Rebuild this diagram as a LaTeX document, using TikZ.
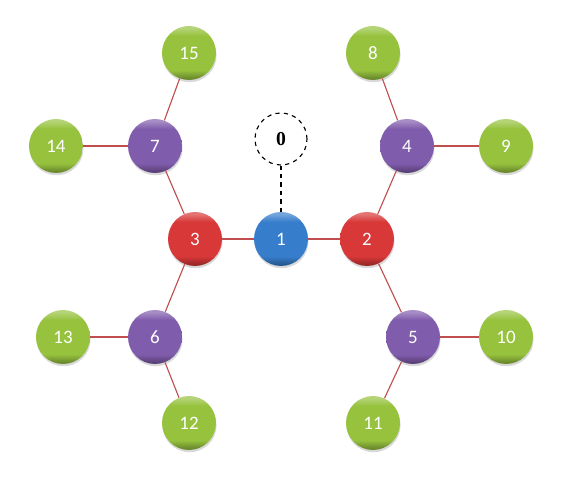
\documentclass[tikz,border=0pt]{standalone}
\usepackage{tikz}
\usepackage{xcolor}
\usepackage{fontspec}
\setmainfont{Liberation Serif}
\newfontfamily\numfont{Carlito}
\usetikzlibrary{shadows}
\definecolor{leaf}{RGB}{150,194,62}
\definecolor{mid}{RGB}{128,92,172}
\definecolor{hub}{RGB}{216,56,56}
\definecolor{root}{RGB}{54,126,204}
\definecolor{link}{RGB}{192,78,78}
% flat fill with a light top rim and a dark bottom rim
\newcommand{\bevel}[1]{%
  \pgfdeclareverticalshading{#1bev}{100bp}{%
    color(0bp)=(#1!72!black); color(27bp)=(#1!72!black);
    color(34bp)=(#1); color(66bp)=(#1);
    color(73bp)=(#1!70!white); color(100bp)=(#1!70!white)}}
\bevel{leaf}\bevel{mid}\bevel{hub}\bevel{root}

\begin{document}
\begin{tikzpicture}[
    ball/.style={circle,minimum size=1.35cm,inner sep=0pt,
                 font=\numfont\fontsize{13.5}{16}\selectfont,text=white,
                 drop shadow={shadow xshift=0.4pt,shadow yshift=-1.6pt,opacity=0.3}},
    lf/.style={ball,shading=leafbev},
    md/.style={ball,shading=midbev},
    hb/.style={ball,shading=hubbev},
    rt/.style={ball,shading=rootbev},
    virt/.style={circle,draw,dashed,thick,minimum size=1.3cm,inner sep=0pt,
                 font=\bfseries\fontsize{14}{16}\selectfont},
    edge/.style={link,line width=0.8pt}]

    \useasboundingbox (-7.025,-6.175) rectangle (7.35,5.975);

    \node[virt] (n0) at (0, 2.5) {0};
    \node[rt] (n1) at (0, 0) {1};
    \node[hb] (n2) at ( 2.15, 0) {2};
    \node[hb] (n3) at (-2.15, 0) {3};
    \node[md] (n4) at ( 3.15, 2.325) {4};
    \node[md] (n5) at ( 3.3, -2.45) {5};
    \node[md] (n6) at (-3.15, -2.45) {6};
    \node[md] (n7) at (-3.15, 2.325) {7};
    \node[lf] (n8)  at ( 2.3, 4.65) {8};
    \node[lf] (n9)  at ( 5.625, 2.325) {9};
    \node[lf] (n10) at ( 5.625, -2.45) {10};
    \node[lf] (n11) at ( 2.3, -4.6) {11};
    \node[lf] (n12) at (-2.3, -4.6) {12};
    \node[lf] (n13) at (-5.45, -2.45) {13};
    \node[lf] (n14) at (-5.625, 2.325) {14};
    \node[lf] (n15) at (-2.3, 4.65) {15};

    \draw[dashed,thick] (n0)--(n1);
    \draw[edge] (n1)--(n2); \draw[edge] (n1)--(n3);
    \draw[edge] (n2)--(n4); \draw[edge] (n2)--(n5);
    \draw[edge] (n3)--(n7); \draw[edge] (n3)--(n6);
    \draw[edge] (n4)--(n8); \draw[edge] (n4)--(n9);
    \draw[edge] (n5)--(n10); \draw[edge] (n5)--(n11);
    \draw[edge] (n6)--(n13); \draw[edge] (n6)--(n12);
    \draw[edge] (n7)--(n14); \draw[edge] (n7)--(n15);
  \end{tikzpicture}
\end{document}
